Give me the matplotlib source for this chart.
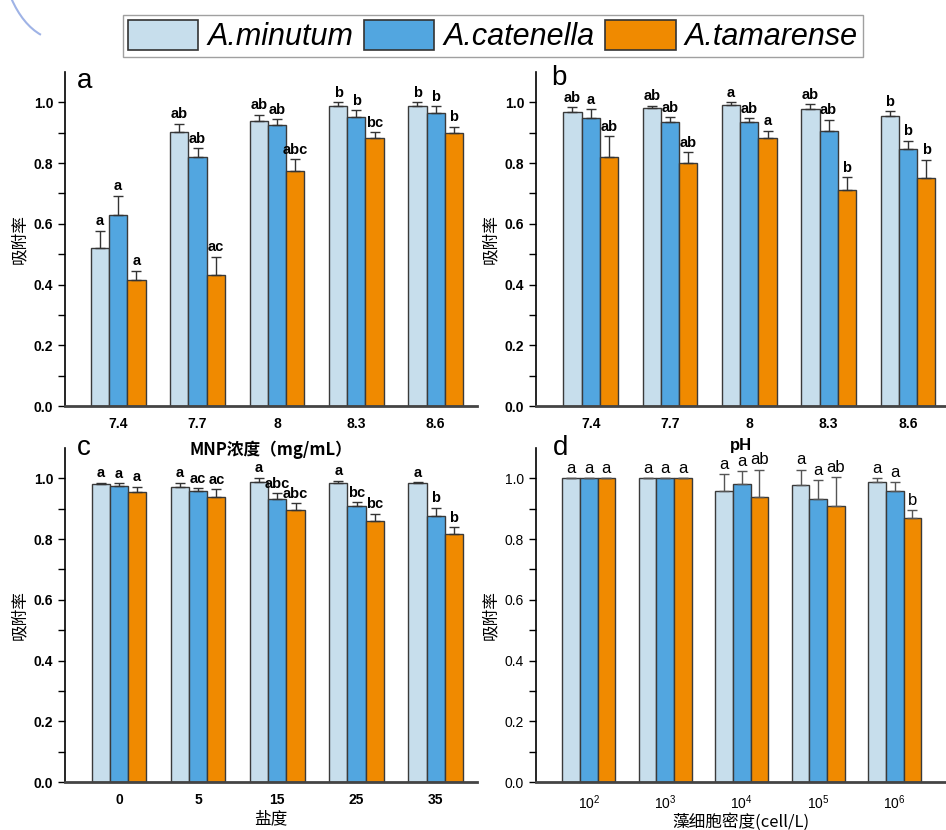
import numpy as np
import matplotlib
matplotlib.use('Agg')
import matplotlib.pyplot as plt
from matplotlib.patches import Patch, Arc

plt.rcParams['font.family'] = ['Liberation Sans', 'Noto Sans CJK SC', 'DejaVu Sans']
plt.rcParams['mathtext.fontset'] = 'custom'
plt.rcParams['mathtext.rm'] = 'Liberation Sans'

species = ['A.minutum', 'A.catenella', 'A.tamarense']
colors = ['#C7DEEC', '#52A6E0', '#F08A00']

# 图a
a_ticks = ['7.4', '7.7', '8', '8.3', '8.6']
a_min = [0.519, 0.904, 0.939, 0.987, 0.989]
a_cat = [0.630, 0.819, 0.925, 0.952, 0.966]
a_tam = [0.415, 0.433, 0.773, 0.881, 0.898]
a_min_err = [0.058, 0.025, 0.020, 0.013, 0.011]
a_cat_err = [0.062, 0.030, 0.020, 0.023, 0.021]
a_tam_err = [0.030, 0.058, 0.040, 0.020, 0.022]
a_letters = [['a', 'a', 'a'], ['ab', 'ab', 'ac'], ['ab', 'ab', 'abc'], ['b', 'b', 'bc'], ['b', 'b', 'b']]

# 图b
b_ticks = ['7.4', '7.7', '8', '8.3', '8.6']
b_min = [0.968, 0.981, 0.991, 0.979, 0.955]
b_cat = [0.949, 0.936, 0.934, 0.907, 0.845]
b_tam = [0.821, 0.799, 0.884, 0.710, 0.752]
b_min_err = [0.016, 0.008, 0.010, 0.014, 0.015]
b_cat_err = [0.028, 0.015, 0.013, 0.036, 0.029]
b_tam_err = [0.068, 0.036, 0.023, 0.044, 0.059]
b_letters = [['ab', 'a', 'ab'], ['ab', 'ab', 'ab'], ['a', 'ab', 'a'], ['ab', 'ab', 'b'], ['b', 'b', 'b']]

# 图c
c_ticks = ['0', '5', '15', '25', '35']
c_min = [0.981, 0.972, 0.989, 0.986, 0.985]
c_cat = [0.975, 0.958, 0.932, 0.909, 0.877]
c_tam = [0.954, 0.939, 0.895, 0.860, 0.816]
c_min_err = [0.004, 0.013, 0.013, 0.006, 0.003]
c_cat_err = [0.009, 0.009, 0.020, 0.013, 0.027]
c_tam_err = [0.018, 0.025, 0.024, 0.023, 0.024]
c_letters = [['a', 'a', 'a'], ['a', 'ac', 'ac'], ['a', 'abc', 'abc'], ['a', 'bc', 'bc'], ['a', 'b', 'b']]

# 图d
d_ticks = ['10$^{2}$', '10$^{3}$', '10$^{4}$', '10$^{5}$', '10$^{6}$']
d_min = [1.0, 1.0, 0.960, 0.977, 0.987]
d_cat = [1.0, 1.0, 0.980, 0.933, 0.958]
d_tam = [1.0, 1.0, 0.939, 0.910, 0.871]
d_min_err = [0.0, 0.0, 0.054, 0.051, 0.014]
d_cat_err = [0.0, 0.0, 0.044, 0.060, 0.029]
d_tam_err = [0.0, 0.0, 0.090, 0.093, 0.025]
d_letters = [['a', 'a', 'a'], ['a', 'a', 'a'], ['a', 'a', 'ab'], ['a', 'a', 'ab'], ['a', 'a', 'b']]

W, H = 946, 830
fig = plt.figure(figsize=(W / 100, H / 100), dpi=100)


def box(l, r, t, b):
    return [l / W, 1 - b / H, (r - l) / W, (b - t) / H]


def panel(rect, xlim, ticks, vals, errs, letters, tag, tagx, tagy, bold=True, ecol='#333333'):
    ax = fig.add_axes(rect)
    ax.patch.set_alpha(0)
    x = np.arange(len(ticks))
    w = 0.23
    for i in range(3):
        pos = x + (i - 1) * w
        ax.bar(pos, vals[i], w, color=colors[i], edgecolor='#3a3a3a', linewidth=1, zorder=2)
        ax.errorbar(pos, vals[i], yerr=[np.zeros(len(x)), errs[i]], fmt='none',
                    ecolor=ecol, elinewidth=1, capsize=3.5, capthick=1, zorder=3)
        for j in range(len(x)):
            ax.text(pos[j], vals[i][j] + errs[i][j] + 0.008, letters[j][i], ha='center', va='bottom',
                    fontsize=10.5 if bold else 12, fontweight='bold' if bold else 'normal', zorder=4)
    ax.set_xlim(*xlim)
    ax.set_ylim(0, 1.1)
    ax.set_xticks(x)
    ax.set_xticklabels(ticks)
    ax.set_yticks(np.arange(0, 1.01, 0.2))
    ax.set_yticks(np.arange(0.1, 1.1, 0.2), minor=True)
    ax.set_yticklabels(['%.1f' % v for v in np.arange(0, 1.01, 0.2)])
    ax.tick_params(axis='y', which='both', direction='out', length=5, width=1, labelsize=10)
    ax.tick_params(axis='x', direction='in', length=6, width=1.2, labelsize=10, pad=8)
    for lab in ax.get_xticklabels() + ax.get_yticklabels():
        lab.set_fontweight('bold' if bold else 'normal')
    for s in ['top', 'right']:
        ax.spines[s].set_visible(False)
    ax.spines['bottom'].set_linewidth(2)
    ax.spines['bottom'].set_color('#444444')
    ax.spines['left'].set_linewidth(1.2)
    ax.set_ylabel('吸附率', fontsize=12, family=['Noto Sans CJK SC'], labelpad=4)
    ax.text(tagx, tagy, tag, transform=ax.transAxes, fontsize=20, va='top', ha='left')
    return ax


ax_a = panel(box(65, 477, 72, 406), (-0.67, 4.52), a_ticks, [a_min, a_cat, a_tam],
             [a_min_err, a_cat_err, a_tam_err], a_letters, 'a', 0.03, 1.012)
ax_b = panel(box(536, 946, 72, 406), (-0.69, 4.48), b_ticks, [b_min, b_cat, b_tam],
             [b_min_err, b_cat_err, b_tam_err], b_letters, 'b', 0.038, 1.02)
ax_c = panel(box(65, 477, 448, 782), (-0.68, 4.52), c_ticks, [c_min, c_cat, c_tam],
             [c_min_err, c_cat_err, c_tam_err], c_letters, 'c', 0.03, 1.04)
ax_d = panel(box(536, 946, 448, 782), (-0.69, 4.67), d_ticks, [d_min, d_cat, d_tam],
             [d_min_err, d_cat_err, d_tam_err], d_letters, 'd', 0.042, 1.04,
             bold=False, ecol='#555555')

ax_a.set_xlabel('MNP浓度（mg/mL）', fontsize=12, fontweight='bold',
                family=['Noto Sans CJK SC'], labelpad=7)
ax_b.set_xlabel('pH', fontsize=12, fontweight='bold', labelpad=5)
ax_c.set_xlabel('盐度', fontsize=12, family=['Noto Sans CJK SC'], labelpad=2)
ax_d.set_xlabel('藻细胞密度(cell/L)', fontsize=12, family=['Noto Sans CJK SC'], labelpad=1)

handles = [Patch(facecolor=c, edgecolor='#333333', linewidth=1.2) for c in colors]
fig.legend(handles, species, loc='center', bbox_to_anchor=(493 / W, 1 - 36 / H), ncol=3,
           prop={'family': 'Liberation Sans', 'style': 'italic', 'size': 22},
           frameon=True, fancybox=False, edgecolor='#888888', handlelength=2.3,
           handleheight=1.15, handletextpad=0.3, columnspacing=0.35, borderpad=0.15,
           borderaxespad=0)

# 左上角的装饰弧线
fig.patches.append(Arc((60 / W, 1 + 60 / H), 120 / W, 200 / H, theta1=180, theta2=260,
                       transform=fig.transFigure, color='#9fb3e6', lw=1.5))

fig.savefig('out.png', dpi=100)
